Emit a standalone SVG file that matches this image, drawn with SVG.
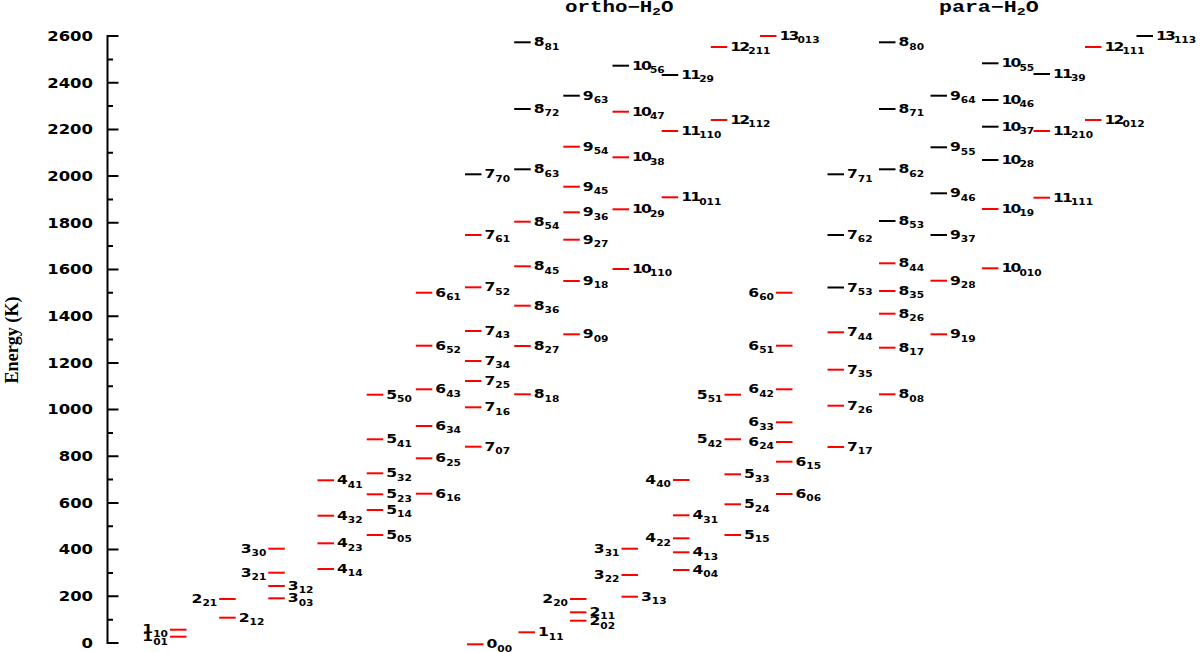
<svg xmlns="http://www.w3.org/2000/svg" width="1200" height="652" viewBox="0 0 1200 652">
<style>
.r{stroke:#ff0000;stroke-width:2}
.k{stroke:#000;stroke-width:2}
.t{font-family:"DejaVu Sans",sans-serif;font-weight:bold;font-size:12.5px;fill:#000}
.w{letter-spacing:-1.5px}
.e{text-anchor:end}
.s{font-size:8.5px;letter-spacing:0}
.ax{fill:none;stroke:#000;stroke-width:2}
.tk{font-family:"DejaVu Sans",sans-serif;font-weight:bold;font-size:13.7px;fill:#000;text-anchor:end}
.ti{font-family:"Liberation Mono",monospace;font-weight:bold;font-size:16px;fill:#000}
</style>
<rect width="1200" height="652" fill="#fff"/>
<g id="axis">
<path class="ax" d="M118.5 36H107.5V643H118.5M107.5 596.3H118.5M107.5 549.6H118.5M107.5 502.9H118.5M107.5 456.2H118.5M107.5 409.6H118.5M107.5 362.9H118.5M107.5 316.2H118.5M107.5 269.5H118.5M107.5 222.8H118.5M107.5 176.1H118.5M107.5 129.4H118.5M107.5 82.7H118.5M107.5 619.7H113M107.5 573H113M107.5 526.3H113M107.5 479.6H113M107.5 432.9H113M107.5 386.2H113M107.5 339.5H113M107.5 292.8H113M107.5 246.1H113M107.5 199.4H113M107.5 152.8H113M107.5 106.1H113M107.5 59.4H113"/>
<text class="tk" transform="translate(93,647.8) scale(1.2,1)">0</text>
<text class="tk" transform="translate(93,601.1) scale(1.2,1)">200</text>
<text class="tk" transform="translate(93,554.4) scale(1.2,1)">400</text>
<text class="tk" transform="translate(93,507.7) scale(1.2,1)">600</text>
<text class="tk" transform="translate(93,461) scale(1.2,1)">800</text>
<text class="tk" transform="translate(93,414.4) scale(1.2,1)">1000</text>
<text class="tk" transform="translate(93,367.7) scale(1.2,1)">1200</text>
<text class="tk" transform="translate(93,321) scale(1.2,1)">1400</text>
<text class="tk" transform="translate(93,274.3) scale(1.2,1)">1600</text>
<text class="tk" transform="translate(93,227.6) scale(1.2,1)">1800</text>
<text class="tk" transform="translate(93,180.9) scale(1.2,1)">2000</text>
<text class="tk" transform="translate(93,134.2) scale(1.2,1)">2200</text>
<text class="tk" transform="translate(93,87.5) scale(1.2,1)">2400</text>
<text class="tk" transform="translate(93,40.8) scale(1.2,1)">2600</text>
<text transform="translate(17.5,340) rotate(-90)" text-anchor="middle" font-family="Liberation Serif, serif" font-weight="bold" font-size="18.5" textLength="87" lengthAdjust="spacingAndGlyphs">Energy (K)</text>
</g>
<g id="titles">
<text class="ti" transform="translate(565,11.5) scale(1.3,1)">ortho−H<tspan font-size="11" dy="3">2</tspan><tspan dy="-3">O</tspan></text>
<text class="ti" transform="translate(939,11.5) scale(1.35,1)">para−H<tspan font-size="11" dy="3">2</tspan><tspan dy="-3">O</tspan></text>
</g>
<g id="ortho">
<g id="o1_10"><line class="r" x1="170" y1="629.7" x2="186.5" y2="629.7"/><text class="t e" transform="translate(168,633.2) scale(1.25,1)">1<tspan class="s" dy="3.3">10</tspan></text></g>
<g id="o1_01"><line class="r" x1="170" y1="636.7" x2="186.5" y2="636.7"/><text class="t e" transform="translate(168,641.2) scale(1.25,1)">1<tspan class="s" dy="3.3">01</tspan></text></g>
<g id="o2_21"><line class="r" x1="219.2" y1="599" x2="235.7" y2="599"/><text class="t e" transform="translate(217.2,603) scale(1.25,1)">2<tspan class="s" dy="3.3">21</tspan></text></g>
<g id="o2_12"><line class="r" x1="219.2" y1="617.7" x2="235.7" y2="617.7"/><text class="t" transform="translate(238.7,621.7) scale(1.25,1)">2<tspan class="s" dy="3.3">12</tspan></text></g>
<g id="o3_30"><line class="r" x1="268.3" y1="548.7" x2="284.8" y2="548.7"/><text class="t e" transform="translate(266.3,552.7) scale(1.25,1)">3<tspan class="s" dy="3.3">30</tspan></text></g>
<g id="o3_21"><line class="r" x1="268.3" y1="572.7" x2="284.8" y2="572.7"/><text class="t e" transform="translate(266.3,576.7) scale(1.25,1)">3<tspan class="s" dy="3.3">21</tspan></text></g>
<g id="o3_12"><line class="r" x1="268.3" y1="586" x2="284.8" y2="586"/><text class="t" transform="translate(287.8,590) scale(1.25,1)">3<tspan class="s" dy="3.3">12</tspan></text></g>
<g id="o3_03"><line class="r" x1="268.3" y1="598.3" x2="284.8" y2="598.3"/><text class="t" transform="translate(287.8,602.3) scale(1.25,1)">3<tspan class="s" dy="3.3">03</tspan></text></g>
<g id="o4_41"><line class="r" x1="317.5" y1="480.3" x2="334" y2="480.3"/><text class="t" transform="translate(337,484.3) scale(1.25,1)">4<tspan class="s" dy="3.3">41</tspan></text></g>
<g id="o4_32"><line class="r" x1="317.5" y1="515.7" x2="334" y2="515.7"/><text class="t" transform="translate(337,519.7) scale(1.25,1)">4<tspan class="s" dy="3.3">32</tspan></text></g>
<g id="o4_23"><line class="r" x1="317.5" y1="543.3" x2="334" y2="543.3"/><text class="t" transform="translate(337,547.3) scale(1.25,1)">4<tspan class="s" dy="3.3">23</tspan></text></g>
<g id="o4_14"><line class="r" x1="317.5" y1="569" x2="334" y2="569"/><text class="t" transform="translate(337,573) scale(1.25,1)">4<tspan class="s" dy="3.3">14</tspan></text></g>
<g id="o5_50"><line class="r" x1="366.7" y1="394.7" x2="383.2" y2="394.7"/><text class="t" transform="translate(386.2,398.7) scale(1.25,1)">5<tspan class="s" dy="3.3">50</tspan></text></g>
<g id="o5_41"><line class="r" x1="366.7" y1="439.3" x2="383.2" y2="439.3"/><text class="t" transform="translate(386.2,443.3) scale(1.25,1)">5<tspan class="s" dy="3.3">41</tspan></text></g>
<g id="o5_32"><line class="r" x1="366.7" y1="473.3" x2="383.2" y2="473.3"/><text class="t" transform="translate(386.2,477.3) scale(1.25,1)">5<tspan class="s" dy="3.3">32</tspan></text></g>
<g id="o5_23"><line class="r" x1="366.7" y1="494.3" x2="383.2" y2="494.3"/><text class="t" transform="translate(386.2,498.3) scale(1.25,1)">5<tspan class="s" dy="3.3">23</tspan></text></g>
<g id="o5_14"><line class="r" x1="366.7" y1="510" x2="383.2" y2="510"/><text class="t" transform="translate(386.2,514) scale(1.25,1)">5<tspan class="s" dy="3.3">14</tspan></text></g>
<g id="o5_05"><line class="r" x1="366.7" y1="535" x2="383.2" y2="535"/><text class="t" transform="translate(386.2,539) scale(1.25,1)">5<tspan class="s" dy="3.3">05</tspan></text></g>
<g id="o6_61"><line class="r" x1="415.8" y1="292.7" x2="432.3" y2="292.7"/><text class="t" transform="translate(435.3,296.7) scale(1.25,1)">6<tspan class="s" dy="3.3">61</tspan></text></g>
<g id="o6_52"><line class="r" x1="415.8" y1="345.7" x2="432.3" y2="345.7"/><text class="t" transform="translate(435.3,349.7) scale(1.25,1)">6<tspan class="s" dy="3.3">52</tspan></text></g>
<g id="o6_43"><line class="r" x1="415.8" y1="389.3" x2="432.3" y2="389.3"/><text class="t" transform="translate(435.3,393.3) scale(1.25,1)">6<tspan class="s" dy="3.3">43</tspan></text></g>
<g id="o6_34"><line class="r" x1="415.8" y1="426" x2="432.3" y2="426"/><text class="t" transform="translate(435.3,430) scale(1.25,1)">6<tspan class="s" dy="3.3">34</tspan></text></g>
<g id="o6_25"><line class="r" x1="415.8" y1="458.3" x2="432.3" y2="458.3"/><text class="t" transform="translate(435.3,462.3) scale(1.25,1)">6<tspan class="s" dy="3.3">25</tspan></text></g>
<g id="o6_16"><line class="r" x1="415.8" y1="493.7" x2="432.3" y2="493.7"/><text class="t" transform="translate(435.3,497.7) scale(1.25,1)">6<tspan class="s" dy="3.3">16</tspan></text></g>
<g id="o7_70"><line class="k" x1="465" y1="174.3" x2="481.5" y2="174.3"/><text class="t" transform="translate(484.5,178.3) scale(1.25,1)">7<tspan class="s" dy="3.3">70</tspan></text></g>
<g id="o7_61"><line class="r" x1="465" y1="235" x2="481.5" y2="235"/><text class="t" transform="translate(484.5,239) scale(1.25,1)">7<tspan class="s" dy="3.3">61</tspan></text></g>
<g id="o7_52"><line class="r" x1="465" y1="287.3" x2="481.5" y2="287.3"/><text class="t" transform="translate(484.5,291.3) scale(1.25,1)">7<tspan class="s" dy="3.3">52</tspan></text></g>
<g id="o7_43"><line class="r" x1="465" y1="331" x2="481.5" y2="331"/><text class="t" transform="translate(484.5,335) scale(1.25,1)">7<tspan class="s" dy="3.3">43</tspan></text></g>
<g id="o7_34"><line class="r" x1="465" y1="361" x2="481.5" y2="361"/><text class="t" transform="translate(484.5,365) scale(1.25,1)">7<tspan class="s" dy="3.3">34</tspan></text></g>
<g id="o7_25"><line class="r" x1="465" y1="381" x2="481.5" y2="381"/><text class="t" transform="translate(484.5,385) scale(1.25,1)">7<tspan class="s" dy="3.3">25</tspan></text></g>
<g id="o7_16"><line class="r" x1="465" y1="407.3" x2="481.5" y2="407.3"/><text class="t" transform="translate(484.5,411.3) scale(1.25,1)">7<tspan class="s" dy="3.3">16</tspan></text></g>
<g id="o7_07"><line class="r" x1="465" y1="446.7" x2="481.5" y2="446.7"/><text class="t" transform="translate(484.5,450.7) scale(1.25,1)">7<tspan class="s" dy="3.3">07</tspan></text></g>
<g id="o8_81"><line class="k" x1="514.2" y1="42.3" x2="530.7" y2="42.3"/><text class="t" transform="translate(533.7,46.3) scale(1.25,1)">8<tspan class="s" dy="3.3">81</tspan></text></g>
<g id="o8_72"><line class="k" x1="514.2" y1="109" x2="530.7" y2="109"/><text class="t" transform="translate(533.7,113) scale(1.25,1)">8<tspan class="s" dy="3.3">72</tspan></text></g>
<g id="o8_63"><line class="k" x1="514.2" y1="169.3" x2="530.7" y2="169.3"/><text class="t" transform="translate(533.7,173.3) scale(1.25,1)">8<tspan class="s" dy="3.3">63</tspan></text></g>
<g id="o8_54"><line class="r" x1="514.2" y1="221.7" x2="530.7" y2="221.7"/><text class="t" transform="translate(533.7,225.7) scale(1.25,1)">8<tspan class="s" dy="3.3">54</tspan></text></g>
<g id="o8_45"><line class="r" x1="514.2" y1="266.3" x2="530.7" y2="266.3"/><text class="t" transform="translate(533.7,270.3) scale(1.25,1)">8<tspan class="s" dy="3.3">45</tspan></text></g>
<g id="o8_36"><line class="r" x1="514.2" y1="305.7" x2="530.7" y2="305.7"/><text class="t" transform="translate(533.7,309.7) scale(1.25,1)">8<tspan class="s" dy="3.3">36</tspan></text></g>
<g id="o8_27"><line class="r" x1="514.2" y1="346" x2="530.7" y2="346"/><text class="t" transform="translate(533.7,350) scale(1.25,1)">8<tspan class="s" dy="3.3">27</tspan></text></g>
<g id="o8_18"><line class="r" x1="514.2" y1="394.3" x2="530.7" y2="394.3"/><text class="t" transform="translate(533.7,398.3) scale(1.25,1)">8<tspan class="s" dy="3.3">18</tspan></text></g>
<g id="o9_63"><line class="k" x1="563.3" y1="95.7" x2="579.8" y2="95.7"/><text class="t" transform="translate(582.8,99.7) scale(1.25,1)">9<tspan class="s" dy="3.3">63</tspan></text></g>
<g id="o9_54"><line class="r" x1="563.3" y1="146.7" x2="579.8" y2="146.7"/><text class="t" transform="translate(582.8,150.7) scale(1.25,1)">9<tspan class="s" dy="3.3">54</tspan></text></g>
<g id="o9_45"><line class="r" x1="563.3" y1="186.7" x2="579.8" y2="186.7"/><text class="t" transform="translate(582.8,190.7) scale(1.25,1)">9<tspan class="s" dy="3.3">45</tspan></text></g>
<g id="o9_36"><line class="r" x1="563.3" y1="212.3" x2="579.8" y2="212.3"/><text class="t" transform="translate(582.8,216.3) scale(1.25,1)">9<tspan class="s" dy="3.3">36</tspan></text></g>
<g id="o9_27"><line class="r" x1="563.3" y1="239.7" x2="579.8" y2="239.7"/><text class="t" transform="translate(582.8,243.7) scale(1.25,1)">9<tspan class="s" dy="3.3">27</tspan></text></g>
<g id="o9_18"><line class="r" x1="563.3" y1="281" x2="579.8" y2="281"/><text class="t" transform="translate(582.8,285) scale(1.25,1)">9<tspan class="s" dy="3.3">18</tspan></text></g>
<g id="o9_09"><line class="r" x1="563.3" y1="334.3" x2="579.8" y2="334.3"/><text class="t" transform="translate(582.8,338.3) scale(1.25,1)">9<tspan class="s" dy="3.3">09</tspan></text></g>
<g id="o10_56"><line class="k" x1="612.5" y1="65.7" x2="629" y2="65.7"/><text class="t w" transform="translate(632,69.7) scale(1.25,1)">10<tspan class="s" dy="3.3">56</tspan></text></g>
<g id="o10_47"><line class="r" x1="612.5" y1="111.7" x2="629" y2="111.7"/><text class="t w" transform="translate(632,115.7) scale(1.25,1)">10<tspan class="s" dy="3.3">47</tspan></text></g>
<g id="o10_38"><line class="r" x1="612.5" y1="157.3" x2="629" y2="157.3"/><text class="t w" transform="translate(632,161.3) scale(1.25,1)">10<tspan class="s" dy="3.3">38</tspan></text></g>
<g id="o10_29"><line class="r" x1="612.5" y1="209.3" x2="629" y2="209.3"/><text class="t w" transform="translate(632,213.3) scale(1.25,1)">10<tspan class="s" dy="3.3">29</tspan></text></g>
<g id="o10_110"><line class="r" x1="612.5" y1="269" x2="629" y2="269"/><text class="t w" transform="translate(632,273) scale(1.25,1)">10<tspan class="s" dy="3.3">110</tspan></text></g>
<g id="o11_29"><line class="k" x1="661.7" y1="75" x2="678.2" y2="75"/><text class="t w" transform="translate(681.2,79) scale(1.25,1)">11<tspan class="s" dy="3.3">29</tspan></text></g>
<g id="o11_110"><line class="r" x1="661.7" y1="131" x2="678.2" y2="131"/><text class="t w" transform="translate(681.2,135) scale(1.25,1)">11<tspan class="s" dy="3.3">110</tspan></text></g>
<g id="o11_011"><line class="r" x1="661.7" y1="197.3" x2="678.2" y2="197.3"/><text class="t w" transform="translate(681.2,201.3) scale(1.25,1)">11<tspan class="s" dy="3.3">011</tspan></text></g>
<g id="o12_211"><line class="r" x1="710.8" y1="47" x2="727.3" y2="47"/><text class="t w" transform="translate(730.3,51) scale(1.25,1)">12<tspan class="s" dy="3.3">211</tspan></text></g>
<g id="o12_112"><line class="r" x1="710.8" y1="120" x2="727.3" y2="120"/><text class="t w" transform="translate(730.3,124) scale(1.25,1)">12<tspan class="s" dy="3.3">112</tspan></text></g>
<g id="o13_013"><line class="r" x1="760" y1="36" x2="776.5" y2="36"/><text class="t w" transform="translate(779.5,40) scale(1.25,1)">13<tspan class="s" dy="3.3">013</tspan></text></g>
</g>
<g id="para">
<g id="p0_00"><line class="r" x1="467" y1="644.3" x2="483.5" y2="644.3"/><text class="t" transform="translate(486.5,648.3) scale(1.25,1)">0<tspan class="s" dy="3.3">00</tspan></text></g>
<g id="p1_11"><line class="r" x1="518.5" y1="632.3" x2="535" y2="632.3"/><text class="t" transform="translate(538,636.3) scale(1.25,1)">1<tspan class="s" dy="3.3">11</tspan></text></g>
<g id="p2_20"><line class="r" x1="570" y1="599" x2="586.5" y2="599"/><text class="t e" transform="translate(568,603) scale(1.25,1)">2<tspan class="s" dy="3.3">20</tspan></text></g>
<g id="p2_11"><line class="r" x1="570" y1="612.3" x2="586.5" y2="612.3"/><text class="t" transform="translate(589.5,615.8) scale(1.25,1)">2<tspan class="s" dy="3.3">11</tspan></text></g>
<g id="p2_02"><line class="r" x1="570" y1="620.7" x2="586.5" y2="620.7"/><text class="t" transform="translate(589.5,625.2) scale(1.25,1)">2<tspan class="s" dy="3.3">02</tspan></text></g>
<g id="p3_31"><line class="r" x1="621.5" y1="548.7" x2="638" y2="548.7"/><text class="t e" transform="translate(619.5,552.7) scale(1.25,1)">3<tspan class="s" dy="3.3">31</tspan></text></g>
<g id="p3_22"><line class="r" x1="621.5" y1="575" x2="638" y2="575"/><text class="t e" transform="translate(619.5,579) scale(1.25,1)">3<tspan class="s" dy="3.3">22</tspan></text></g>
<g id="p3_13"><line class="r" x1="621.5" y1="596.7" x2="638" y2="596.7"/><text class="t" transform="translate(641,600.7) scale(1.25,1)">3<tspan class="s" dy="3.3">13</tspan></text></g>
<g id="p4_40"><line class="r" x1="673" y1="480" x2="689.5" y2="480"/><text class="t e" transform="translate(671,484) scale(1.25,1)">4<tspan class="s" dy="3.3">40</tspan></text></g>
<g id="p4_31"><line class="r" x1="673" y1="515.3" x2="689.5" y2="515.3"/><text class="t" transform="translate(692.5,519.3) scale(1.25,1)">4<tspan class="s" dy="3.3">31</tspan></text></g>
<g id="p4_22"><line class="r" x1="673" y1="538.3" x2="689.5" y2="538.3"/><text class="t e" transform="translate(671,542.3) scale(1.25,1)">4<tspan class="s" dy="3.3">22</tspan></text></g>
<g id="p4_13"><line class="r" x1="673" y1="552.3" x2="689.5" y2="552.3"/><text class="t" transform="translate(692.5,556.3) scale(1.25,1)">4<tspan class="s" dy="3.3">13</tspan></text></g>
<g id="p4_04"><line class="r" x1="673" y1="570" x2="689.5" y2="570"/><text class="t" transform="translate(692.5,574) scale(1.25,1)">4<tspan class="s" dy="3.3">04</tspan></text></g>
<g id="p5_51"><line class="r" x1="724.5" y1="394.7" x2="741" y2="394.7"/><text class="t e" transform="translate(722.5,398.7) scale(1.25,1)">5<tspan class="s" dy="3.3">51</tspan></text></g>
<g id="p5_42"><line class="r" x1="724.5" y1="439.3" x2="741" y2="439.3"/><text class="t e" transform="translate(722.5,443.3) scale(1.25,1)">5<tspan class="s" dy="3.3">42</tspan></text></g>
<g id="p5_33"><line class="r" x1="724.5" y1="474.3" x2="741" y2="474.3"/><text class="t" transform="translate(744,478.3) scale(1.25,1)">5<tspan class="s" dy="3.3">33</tspan></text></g>
<g id="p5_24"><line class="r" x1="724.5" y1="504.3" x2="741" y2="504.3"/><text class="t" transform="translate(744,508.3) scale(1.25,1)">5<tspan class="s" dy="3.3">24</tspan></text></g>
<g id="p5_15"><line class="r" x1="724.5" y1="535" x2="741" y2="535"/><text class="t" transform="translate(744,539) scale(1.25,1)">5<tspan class="s" dy="3.3">15</tspan></text></g>
<g id="p6_60"><line class="r" x1="776" y1="292.7" x2="792.5" y2="292.7"/><text class="t e" transform="translate(774,296.7) scale(1.25,1)">6<tspan class="s" dy="3.3">60</tspan></text></g>
<g id="p6_51"><line class="r" x1="776" y1="345.7" x2="792.5" y2="345.7"/><text class="t e" transform="translate(774,349.7) scale(1.25,1)">6<tspan class="s" dy="3.3">51</tspan></text></g>
<g id="p6_42"><line class="r" x1="776" y1="389.3" x2="792.5" y2="389.3"/><text class="t e" transform="translate(774,393.3) scale(1.25,1)">6<tspan class="s" dy="3.3">42</tspan></text></g>
<g id="p6_33"><line class="r" x1="776" y1="422.3" x2="792.5" y2="422.3"/><text class="t e" transform="translate(774,426.3) scale(1.25,1)">6<tspan class="s" dy="3.3">33</tspan></text></g>
<g id="p6_24"><line class="r" x1="776" y1="442" x2="792.5" y2="442"/><text class="t e" transform="translate(774,446) scale(1.25,1)">6<tspan class="s" dy="3.3">24</tspan></text></g>
<g id="p6_15"><line class="r" x1="776" y1="461.7" x2="792.5" y2="461.7"/><text class="t" transform="translate(795.5,465.7) scale(1.25,1)">6<tspan class="s" dy="3.3">15</tspan></text></g>
<g id="p6_06"><line class="r" x1="776" y1="494" x2="792.5" y2="494"/><text class="t" transform="translate(795.5,498) scale(1.25,1)">6<tspan class="s" dy="3.3">06</tspan></text></g>
<g id="p7_71"><line class="k" x1="827.5" y1="174.3" x2="844" y2="174.3"/><text class="t" transform="translate(847,178.3) scale(1.25,1)">7<tspan class="s" dy="3.3">71</tspan></text></g>
<g id="p7_62"><line class="k" x1="827.5" y1="235" x2="844" y2="235"/><text class="t" transform="translate(847,239) scale(1.25,1)">7<tspan class="s" dy="3.3">62</tspan></text></g>
<g id="p7_53"><line class="k" x1="827.5" y1="287.5" x2="844" y2="287.5"/><text class="t" transform="translate(847,291.5) scale(1.25,1)">7<tspan class="s" dy="3.3">53</tspan></text></g>
<g id="p7_44"><line class="r" x1="827.5" y1="332.3" x2="844" y2="332.3"/><text class="t" transform="translate(847,336.3) scale(1.25,1)">7<tspan class="s" dy="3.3">44</tspan></text></g>
<g id="p7_35"><line class="r" x1="827.5" y1="369.7" x2="844" y2="369.7"/><text class="t" transform="translate(847,373.7) scale(1.25,1)">7<tspan class="s" dy="3.3">35</tspan></text></g>
<g id="p7_26"><line class="r" x1="827.5" y1="405.7" x2="844" y2="405.7"/><text class="t" transform="translate(847,409.7) scale(1.25,1)">7<tspan class="s" dy="3.3">26</tspan></text></g>
<g id="p7_17"><line class="r" x1="827.5" y1="447" x2="844" y2="447"/><text class="t" transform="translate(847,451) scale(1.25,1)">7<tspan class="s" dy="3.3">17</tspan></text></g>
<g id="p8_80"><line class="k" x1="879" y1="42.3" x2="895.5" y2="42.3"/><text class="t" transform="translate(898.5,46.3) scale(1.25,1)">8<tspan class="s" dy="3.3">80</tspan></text></g>
<g id="p8_71"><line class="k" x1="879" y1="109" x2="895.5" y2="109"/><text class="t" transform="translate(898.5,113) scale(1.25,1)">8<tspan class="s" dy="3.3">71</tspan></text></g>
<g id="p8_62"><line class="k" x1="879" y1="169.3" x2="895.5" y2="169.3"/><text class="t" transform="translate(898.5,173.3) scale(1.25,1)">8<tspan class="s" dy="3.3">62</tspan></text></g>
<g id="p8_53"><line class="k" x1="879" y1="221" x2="895.5" y2="221"/><text class="t" transform="translate(898.5,225) scale(1.25,1)">8<tspan class="s" dy="3.3">53</tspan></text></g>
<g id="p8_44"><line class="r" x1="879" y1="263.3" x2="895.5" y2="263.3"/><text class="t" transform="translate(898.5,267.3) scale(1.25,1)">8<tspan class="s" dy="3.3">44</tspan></text></g>
<g id="p8_35"><line class="r" x1="879" y1="291" x2="895.5" y2="291"/><text class="t" transform="translate(898.5,295) scale(1.25,1)">8<tspan class="s" dy="3.3">35</tspan></text></g>
<g id="p8_26"><line class="r" x1="879" y1="313.7" x2="895.5" y2="313.7"/><text class="t" transform="translate(898.5,317.7) scale(1.25,1)">8<tspan class="s" dy="3.3">26</tspan></text></g>
<g id="p8_17"><line class="r" x1="879" y1="347.7" x2="895.5" y2="347.7"/><text class="t" transform="translate(898.5,351.7) scale(1.25,1)">8<tspan class="s" dy="3.3">17</tspan></text></g>
<g id="p8_08"><line class="r" x1="879" y1="394.3" x2="895.5" y2="394.3"/><text class="t" transform="translate(898.5,398.3) scale(1.25,1)">8<tspan class="s" dy="3.3">08</tspan></text></g>
<g id="p9_64"><line class="k" x1="930.5" y1="95.7" x2="947" y2="95.7"/><text class="t" transform="translate(950,99.7) scale(1.25,1)">9<tspan class="s" dy="3.3">64</tspan></text></g>
<g id="p9_55"><line class="k" x1="930.5" y1="147.3" x2="947" y2="147.3"/><text class="t" transform="translate(950,151.3) scale(1.25,1)">9<tspan class="s" dy="3.3">55</tspan></text></g>
<g id="p9_46"><line class="k" x1="930.5" y1="193.3" x2="947" y2="193.3"/><text class="t" transform="translate(950,197.3) scale(1.25,1)">9<tspan class="s" dy="3.3">46</tspan></text></g>
<g id="p9_37"><line class="k" x1="930.5" y1="235" x2="947" y2="235"/><text class="t" transform="translate(950,239) scale(1.25,1)">9<tspan class="s" dy="3.3">37</tspan></text></g>
<g id="p9_28"><line class="r" x1="930.5" y1="280.7" x2="947" y2="280.7"/><text class="t" transform="translate(950,284.7) scale(1.25,1)">9<tspan class="s" dy="3.3">28</tspan></text></g>
<g id="p9_19"><line class="r" x1="930.5" y1="334.3" x2="947" y2="334.3"/><text class="t" transform="translate(950,338.3) scale(1.25,1)">9<tspan class="s" dy="3.3">19</tspan></text></g>
<g id="p10_55"><line class="k" x1="982" y1="63.3" x2="998.5" y2="63.3"/><text class="t w" transform="translate(1001.5,67.3) scale(1.25,1)">10<tspan class="s" dy="3.3">55</tspan></text></g>
<g id="p10_46"><line class="k" x1="982" y1="100" x2="998.5" y2="100"/><text class="t w" transform="translate(1001.5,104) scale(1.25,1)">10<tspan class="s" dy="3.3">46</tspan></text></g>
<g id="p10_37"><line class="k" x1="982" y1="126.7" x2="998.5" y2="126.7"/><text class="t w" transform="translate(1001.5,130.7) scale(1.25,1)">10<tspan class="s" dy="3.3">37</tspan></text></g>
<g id="p10_28"><line class="k" x1="982" y1="160" x2="998.5" y2="160"/><text class="t w" transform="translate(1001.5,164) scale(1.25,1)">10<tspan class="s" dy="3.3">28</tspan></text></g>
<g id="p10_19"><line class="r" x1="982" y1="209" x2="998.5" y2="209"/><text class="t w" transform="translate(1001.5,213) scale(1.25,1)">10<tspan class="s" dy="3.3">19</tspan></text></g>
<g id="p10_010"><line class="r" x1="982" y1="268.3" x2="998.5" y2="268.3"/><text class="t w" transform="translate(1001.5,272.3) scale(1.25,1)">10<tspan class="s" dy="3.3">010</tspan></text></g>
<g id="p11_39"><line class="k" x1="1033.5" y1="74" x2="1050" y2="74"/><text class="t w" transform="translate(1053,78) scale(1.25,1)">11<tspan class="s" dy="3.3">39</tspan></text></g>
<g id="p11_210"><line class="r" x1="1033.5" y1="131" x2="1050" y2="131"/><text class="t w" transform="translate(1053,135) scale(1.25,1)">11<tspan class="s" dy="3.3">210</tspan></text></g>
<g id="p11_111"><line class="r" x1="1033.5" y1="197.7" x2="1050" y2="197.7"/><text class="t w" transform="translate(1053,201.7) scale(1.25,1)">11<tspan class="s" dy="3.3">111</tspan></text></g>
<g id="p12_111"><line class="r" x1="1085" y1="47" x2="1101.5" y2="47"/><text class="t w" transform="translate(1104.5,51) scale(1.25,1)">12<tspan class="s" dy="3.3">111</tspan></text></g>
<g id="p12_012"><line class="r" x1="1085" y1="120" x2="1101.5" y2="120"/><text class="t w" transform="translate(1104.5,124) scale(1.25,1)">12<tspan class="s" dy="3.3">012</tspan></text></g>
<g id="p13_113"><line class="k" x1="1136.5" y1="36" x2="1153" y2="36"/><text class="t w" transform="translate(1156,40) scale(1.25,1)">13<tspan class="s" dy="3.3">113</tspan></text></g>
</g>
</svg>
